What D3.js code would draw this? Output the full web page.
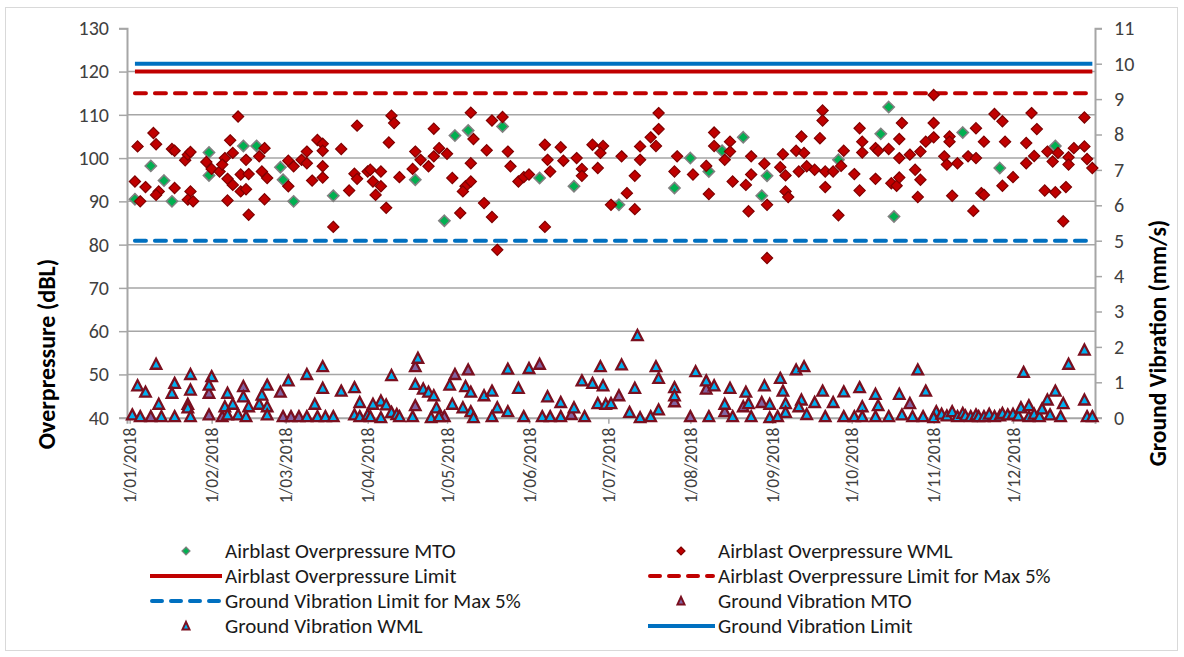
<!DOCTYPE html>
<html>
<head>
<meta charset="utf-8">
<script src="https://cdn.jsdelivr.net/npm/d3@7"></script>
<style>
  html, body { margin: 0; padding: 0; background: #fff; }
  svg { display: block; font-family: Carlito, Lato, "Liberation Sans", sans-serif; }
</style>
</head>
<body>
<svg id="chart" width="1184" height="657"></svg>
<script>
// Blast monitoring results 2018: [day of year offset from 1 Jan, value]
const airblastMTO = [[8,98.2],[2,90.5],[13,94.8],[16,90.0],[30,101.3],[30,96.0],[43,102.8],[48,102.8],[57,97.9],[58,95.0],[62,90.0],[77,91.3],[108,95.0],[123,105.2],[119,85.5],[128,106.4],[141,107.3],[155,95.4],[168,93.5],[185,89.2],[206,93.1],[212,100.0],[219,96.9],[224,101.7],[232,104.8],[241,95.9],[239,91.3],[268,99.6],[287,111.8],[284,105.6],[289,86.5],[315,105.9],[329,97.7],[350,102.8]];

const airblastWML = [[3,102.7],[9,105.8],[10,103.2],[2,94.6],[6,93.3],[4,90.0],[11,92.3],[10,91.5],[16,102.1],[17,101.7],[17,93.1],[21,99.5],[22,100.8],[23,101.4],[23,92.3],[22,90.4],[24,90.0],[29,99.1],[31,97.5],[34,96.9],[37,90.2],[37,95.2],[38,104.1],[39,101.2],[36,100.0],[35,98.5],[39,93.8],[41,109.6],[44,99.6],[42,96.2],[45,96.3],[42,92.3],[44,92.8],[45,86.9],[49,100.4],[51,102.3],[50,96.9],[52,95.4],[51,90.5],[60,99.4],[60,93.5],[62,98.1],[65,99.6],[67,101.5],[67,98.8],[69,94.8],[71,104.2],[73,103.3],[73,101.7],[73,98.1],[73,95.5],[77,84.1],[80,102.1],[83,92.5],[86,107.5],[85,96.4],[86,95.2],[90,96.9],
  [99,109.8],[100,108.1],[98,103.6],[91,97.3],[95,96.9],[92,94.6],[95,93.5],[93,91.5],[97,88.5],[102,95.6],[107,97.5],[108,101.5],[110,99.6],[113,98.1],[115,100.4],[117,102.3],[115,106.8],[120,101.0],[122,95.4],[125,87.3],[127,93.5],[126,92.3],[129,94.6],[129,98.8],[129,110.5],[130,104.4],[134,89.6],[135,101.8],[137,86.4],[137,108.7],[141,109.5],[139,78.8],[143,101.5],[144,98.1],[147,94.6],[149,95.6],[151,96.2],[157,103.1],[158,99.6],[159,96.9],[157,84.1],[163,102.5],[164,99.4],[169,100.0],[171,97.5],[171,95.9],[175,103.1],[179,102.8],[178,101.2],[177,97.7],[182,89.2],
  [186,100.4],[188,91.9],[191,88.2],[191,95.9],[193,102.7],[193,99.6],[197,104.8],[200,106.7],[200,110.4],[199,102.8],[206,96.9],[207,100.4],[213,96.2],[218,98.2],[219,91.7],[221,105.9],[221,102.8],[227,103.8],[227,101.5],[225,99.6],[228,94.6],[233,93.8],[235,100.4],[235,96.2],[234,87.7],[240,98.7],[241,89.2],[241,76.9],[247,100.9],[246,97.9],[248,96.0],[248,92.3],[249,91.0],[252,101.7],[254,105.0],[255,101.2],[253,96.9],[256,98.1],[259,97.3],[262,111.0],[262,108.7],[261,104.6],[263,96.9],[263,93.3],[266,96.9],[268,86.8],[270,101.7],[269,98.2],
  [276,106.9],[277,103.8],[277,101.3],[274,96.3],[276,92.5],[282,102.3],[283,101.7],[287,102.1],[282,95.2],[288,94.2],[290,93.6],[291,95.5],[292,108.1],[291,104.4],[291,100.0],[295,100.8],[299,101.5],[297,97.3],[299,95.0],[298,91.0],[304,114.6],[304,108.1],[304,104.8],[301,103.8],[308,100.4],[309,98.5],[310,105.0],[310,103.8],[313,98.8],[311,91.3],[317,100.4],[320,100.0],[320,106.9],[323,103.8],[319,87.8],[322,91.9],[323,91.5],[327,110.2],[330,108.5],[331,103.8],[334,95.6],[330,93.6],[339,103.5],[339,98.8],[342,100.5],[341,110.4],[343,106.7],[347,101.5],[349,99.2],[351,101.2],[355,100.2],[355,98.5],[357,102.3],[346,92.5],[350,92.1],[354,93.3],[353,85.4],[361,109.4],[361,102.7],[362,99.8],[364,97.7]];

const vibrationMTO = [[8,0.03],[30,0.69],[30,0.08],[35,0.03],[43,0.88],[57,0.72],[58,0.03],[61,0.03],[64,0.03],[108,1.44],[108,0.34],[119,0.03],[123,1.22],[128,1.35],[155,1.51],[167,0.09],[185,0.62],[206,0.45],[212,0.03],[218,0.81],[225,0.17],[232,0.31],[239,0.43],[295,0.40]];

const vibrationWML = [[10,1.51],[3,0.90],[6,0.72],[1,0.08],[4,0.03],[11,0.38],[12,0.03],[17,0.97],[16,0.69],[17,0.03],[23,1.22],[23,0.78],[22,0.38],[22,0.28],[23,0.03],[31,1.16],[30,0.92],[37,0.69],[39,0.38],[36,0.31],[37,0.08],[43,0.59],[45,0.31],[41,0.08],[44,0.03],[49,0.38],[50,0.64],[52,0.92],[52,0.31],[52,0.08],[60,1.04],[67,0.03],[67,1.22],[70,0.38],[73,1.44],[73,0.83],[71,0.03],[74,0.03],[77,0.03],[80,0.75],[85,0.85],[87,0.43],[85,0.08],[87,0.03],[90,0.08],
  [95,0.47],[92,0.38],[97,0.36],[91,0.03],[95,0],[99,1.19],[99,0.15],[101,0.09],[102,0.03],[107,0.03],[109,1.68],[108,0.94],[111,0.81],[113,0.72],[115,0.62],[116,0.28],[114,0],[117,0.03],[121,0.92],[122,0.38],[126,0.28],[127,0.88],[129,0.72],[129,0.17],[130,0],[134,0.62],[137,0.75],[137,0.03],[139,0.28],[143,0.17],[143,1.37],[147,0.83],[149,0.03],[151,1.39],[158,0.59],[156,0.03],[159,0.03],[163,0.43],[163,0.03],[168,0.28],[172,0.03],[171,1.04],[175,0.97],[179,0.90],[178,1.44],[177,0.40],[180,0.38],
  [186,1.49],[182,0.40],[192,2.32],[191,0.83],[189,0.15],[193,0],[197,0.03],[200,0.22],[199,1.44],[200,1.11],[206,0.85],[206,0.62],[214,1.30],[218,1.04],[219,0.03],[221,0.90],[225,0.38],[227,0.83],[228,0.03],[233,0.72],[234,0.40],[235,0.03],[240,0.90],[242,0.38],[242,0],[246,1.11],[247,0.75],[248,0.40],[248,0.15],[245,0.03],[252,1.35],[255,1.44],[254,0.50],[253,0.31],[256,0.09],[259,0.43],[262,0.75],[263,0.03],[266,0.43],[270,0.73],[270,0.03],
  [276,0.85],[277,0.31],[274,0.03],[277,0.03],[282,0.66],[283,0.34],[282,0.03],[287,0.03],[291,0.66],[292,0.08],[296,0.03],[298,1.35],[301,0.75],[300,0.03],[305,0.17],[304,0],[307,0.10],[309,0.05],[311,0.17],[313,0.03],[315,0.12],[316,0.05],[318,0.03],[320,0.08],[321,0.03],[323,0.03],[325,0.10],[327,0.03],[329,0.05],[330,0.12],[332,0.08],[334,0.10],[336,0.05],[337,0.28],[338,1.28],[340,0.03],[340,0.34],[342,0.10],[344,0.03],[345,0.25],[347,0.50],[348,0.08],[350,0.75],[353,0.40],[352,0.03],[355,1.51],[361,1.91],[361,0.50],[362,0.03],[364,0.03]];

// Compliance limits and the span of days they are drawn across
const airblastLimit = 120;
const airblastLimit5 = 115;
const vibrationLimit = 10;
const vibrationLimit5 = 5;
const limitSpan = [2, 364];

// Axis tick values and legend labels
const leftTicks = [40, 50, 60, 70, 80, 90, 100, 110, 120, 130];
const rightTicks = [0, 1, 2, 3, 4, 5, 6, 7, 8, 9, 10, 11];
const monthStarts = d3.range(0, 12).map(m => new Date(2018, m, 1));
const legendLabels = ["Airblast Overpressure MTO", "Airblast Overpressure WML", "Airblast Overpressure Limit",
  "Airblast Overpressure Limit for Max 5%", "Ground Vibration Limit for Max 5%", "Ground Vibration MTO",
  "Ground Vibration WML", "Ground Vibration Limit"];

const svg = d3.select("#chart");
const start = new Date(2018, 0, 1);
const dayDate = d => d3.timeDay.offset(start, d);

const x = d3.scaleTime().domain([new Date(2017, 11, 31), new Date(2019, 0, 1)]).range([127, 1095]);
const yL = d3.scaleLinear().domain([40, 130]).range([417.7, 28.3]);
const yR = d3.scaleLinear().domain([0, 11]).range([417.7, 28.3]);

const C = {
  grid: "#a6a6a6", text: "#404040",
  red: "#c00000", redEdge: "#7f0000", green: "#00b050", greenEdge: "#808080",
  blue: "#0070c0", cyan: "#00b0f0", purple: "#8064a2", maroon: "#7a0f1f"
};

// chart area frame
svg.append("rect").attr("x", 5.5).attr("y", 7.5).attr("width", 1172).attr("height", 643)
  .attr("fill", "#fff").attr("stroke", "#d9d9d9");

// horizontal gridlines
svg.append("g").selectAll("line").data(leftTicks.filter(v => v > 40 && v < 130)).join("line")
  .attr("x1", x.range()[0]).attr("x2", x.range()[1])
  .attr("y1", d => yL(d)).attr("y2", d => yL(d))
  .attr("stroke", C.grid).attr("stroke-width", 1.5);

// left axis
const gL = svg.append("g").attr("transform", "translate(127,0)")
  .call(d3.axisLeft(yL).tickValues(leftTicks).tickSize(8).tickPadding(10));
// right axis
const gR = svg.append("g").attr("transform", "translate(1095,0)")
  .call(d3.axisRight(yR).tickValues(rightTicks).tickSize(7).tickPadding(12));
// bottom axis
const gB = svg.append("g").attr("transform", "translate(0,417.7)")
  .call(d3.axisBottom(x).tickValues(monthStarts).tickSize(6).tickPadding(8)
    .tickFormat(d => `${d.getDate()}/${String(d.getMonth() + 1).padStart(2, "0")}/${d.getFullYear()}`));

[gL, gR, gB].forEach(g => {
  g.select(".domain").attr("stroke", C.grid).attr("stroke-width", 2);
  g.selectAll(".tick line").attr("stroke", C.grid).attr("stroke-width", 1.5);
  g.selectAll("text").attr("fill", C.text).style("font-size", "20px").style("font-family", "Carlito, Lato, sans-serif");
});
gB.selectAll("text").style("font-size", "17.5px")
  .attr("transform", "rotate(-90)").attr("text-anchor", "end")
  .attr("x", -10).attr("y", 0).attr("dy", "0.35em");

// axis titles
svg.append("text").attr("transform", "translate(46,354) rotate(-90)")
  .attr("text-anchor", "middle").attr("dominant-baseline", "central")
  .style("font-size", "24px").style("font-weight", "bold").attr("fill", "#000")
  .text("Overpressure (dBL)");
svg.append("text").attr("transform", "translate(1158,343) rotate(-90)")
  .attr("text-anchor", "middle").attr("dominant-baseline", "central")
  .style("font-size", "23.5px").style("font-weight", "bold").attr("fill", "#000")
  .text("Ground Vibration (mm/s)");

// limit lines
const limitLine = (g, val, scale, color, dashed) => g.append("line")
  .attr("x1", x(dayDate(limitSpan[0]))).attr("x2", x(dayDate(limitSpan[1])))
  .attr("y1", scale(val)).attr("y2", scale(val))
  .attr("stroke", color).attr("stroke-width", 4)
  .attr("stroke-linecap", dashed ? "round" : "butt")
  .attr("stroke-dasharray", dashed ? "11,9" : null);
const lines = svg.append("g");
limitLine(lines, airblastLimit, yL, C.red, false);
limitLine(lines, airblastLimit5, yL, C.red, true);
limitLine(lines, vibrationLimit5, yR, C.blue, true);
limitLine(lines, vibrationLimit, yR, C.blue, false);

// marker shapes
const diamond = r => `M0,${-r}L${r},0L0,${r}L${-r},0Z`;
const triangle = (w, h) => `M0,${-h * 0.55}L${w / 2},${h * 0.45}L${-w / 2},${h * 0.45}Z`;

const drawDiamonds = (data, fill, edge, sw) => svg.append("g").selectAll("path").data(data).join("path")
  .attr("d", diamond(5.6))
  .attr("transform", d => `translate(${x(dayDate(d[0]))},${yL(d[1])})`)
  .attr("fill", fill).attr("stroke", edge).attr("stroke-width", sw);
const drawTriangles = (data, fill) => svg.append("g").selectAll("path").data(data).join("path")
  .attr("d", triangle(10.5, 10))
  .attr("transform", d => `translate(${x(dayDate(d[0]))},${yR(d[1])})`)
  .attr("fill", fill).attr("stroke", C.maroon).attr("stroke-width", 2.3).attr("stroke-linejoin", "miter");

drawDiamonds(airblastMTO, C.green, C.greenEdge, 1.6);
drawDiamonds(airblastWML, C.red, C.redEdge, 1.2);
drawTriangles(vibrationMTO, C.purple);
drawTriangles(vibrationWML, C.cyan);

// legend
const legend = svg.append("g").style("font-size", "21px").attr("fill", "#1a1a1a");
const rows = [551, 576, 601, 626];
const cols = [{ sx: 186, l0: 150, l1: 222, tx: 225 }, { sx: 681, l0: 648, l1: 715, tx: 718 }];
const entries = [
  { c: 0, r: 0, kind: "diamond", fill: C.green, edge: C.greenEdge },
  { c: 1, r: 0, kind: "diamond", fill: C.red, edge: C.redEdge },
  { c: 0, r: 1, kind: "line", color: C.red },
  { c: 1, r: 1, kind: "dash", color: C.red },
  { c: 0, r: 2, kind: "dash", color: C.blue },
  { c: 1, r: 2, kind: "tri", fill: C.purple },
  { c: 0, r: 3, kind: "tri", fill: C.cyan },
  { c: 1, r: 3, kind: "line", color: C.blue }
];
entries.forEach((e, i) => {
  const col = cols[e.c], y = rows[e.r];
  if (e.kind === "diamond") {
    legend.append("path").attr("d", diamond(4)).attr("transform", `translate(${col.sx},${y})`)
      .attr("fill", e.fill).attr("stroke", e.edge).attr("stroke-width", 1.2);
  } else if (e.kind === "tri") {
    legend.append("path").attr("d", triangle(7, 7.5)).attr("transform", `translate(${col.sx},${y})`)
      .attr("fill", e.fill).attr("stroke", C.maroon).attr("stroke-width", 2);
  } else {
    legend.append("line").attr("x1", col.l0 + (e.kind === "dash" ? 2 : 0)).attr("x2", col.l1 - (e.kind === "dash" ? 2 : 0))
      .attr("y1", y).attr("y2", y).attr("stroke", e.color).attr("stroke-width", 4)
      .attr("stroke-linecap", e.kind === "dash" ? "round" : "butt")
      .attr("stroke-dasharray", e.kind === "dash" ? "10,9" : null);
  }
  legend.append("text").attr("x", col.tx).attr("y", y).attr("dominant-baseline", "central")
    .text(legendLabels[i]);
});
</script>
</body>
</html>
